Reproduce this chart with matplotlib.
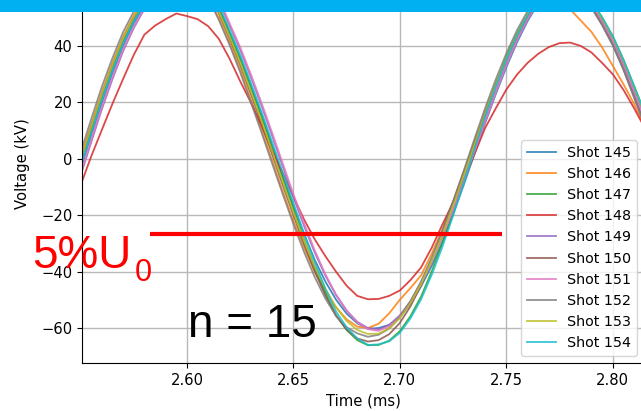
import matplotlib.pyplot as plt
from matplotlib.patches import Rectangle

# Sample times (ms)
time_ms = [2.550, 2.555, 2.560, 2.565, 2.570, 2.575, 2.580, 2.585, 2.590, 2.595,
           2.600, 2.605, 2.610, 2.615, 2.620, 2.625, 2.630, 2.635, 2.640, 2.645,
           2.650, 2.655, 2.660, 2.665, 2.670, 2.675, 2.680, 2.685, 2.690, 2.695,
           2.700, 2.705, 2.710, 2.715, 2.720, 2.725, 2.730, 2.735, 2.740, 2.745,
           2.750, 2.755, 2.760, 2.765, 2.770, 2.775, 2.780, 2.785, 2.790, 2.795,
           2.800, 2.805, 2.810, 2.815, 2.820]

# Voltage (kV) for each shot
shot_145 = [-3.7, 8.2, 19.8, 30.4, 40.1, 48.0, 54.5, 59.2, 62.1, 63.9,
            64.8, 63.8, 60.7, 53.8, 45.0, 36.0, 26.0, 15.7, 4.9, -6.0,
            -16.7, -26.6, -35.8, -43.5, -49.9, -54.9, -58.3, -60.3, -60.0, -58.9,
            -56.1, -51.4, -45.2, -37.9, -29.5, -19.7, -9.3, 1.6, 12.5, 22.8,
            32.4, 41.2, 48.8, 55.1, 59.7, 62.3, 63.0, 59.1, 54.9, 49.2,
            42.5, 34.1, 24.6, 14.9, 4.7]
shot_146 = [0.2, 12.1, 23.6, 34.0, 43.3, 50.8, 56.8, 60.8, 63.1, 64.2,
            64.4, 62.2, 56.5, 49.9, 41.1, 31.5, 21.0, 10.4, -0.6, -11.5,
            -22.0, -31.5, -40.1, -47.0, -52.6, -56.9, -59.5, -60.0, -58.5, -54.8,
            -50.0, -45.8, -41.3, -33.6, -25.0, -15.2, -4.9, 6.0, 16.7, 26.5,
            35.5, 43.6, 50.4, 55.0, 57.5, 56.5, 53.0, 49.0, 45.0, 39.5,
            33.0, 26.5, 19.5, 11.3, 3.0]
shot_147 = [-2.0, 9.9, 21.5, 32.0, 41.5, 49.2, 55.5, 59.9, 62.5, 64.5,
            65.5, 63.5, 60.0, 53.0, 44.2, 35.1, 25.0, 14.6, 3.8, -7.1,
            -17.8, -28.5, -38.4, -47.6, -55.4, -60.7, -64.3, -66.1, -66.0, -64.5,
            -61.1, -55.8, -48.8, -39.9, -29.8, -19.0, -7.6, 4.0, 15.5, 26.2,
            36.1, 44.4, 51.4, 57.0, 61.0, 63.4, 64.0, 60.0, 55.5, 50.0,
            43.5, 35.2, 25.9, 16.3, 6.2]
shot_148 = [-9.5, 0.8, 10.2, 19.5, 28.3, 36.8, 44.0, 47.2, 49.5, 51.5,
            50.6, 49.5, 47.0, 42.5, 35.5, 27.5, 20.0, 11.8, 2.7, -5.0,
            -13.4, -21.5, -28.5, -34.5, -40.0, -45.0, -48.6, -49.8, -49.7, -48.6,
            -46.7, -43.0, -38.5, -31.5, -23.3, -15.5, -7.5, 1.5, 10.8, 17.8,
            24.5, 29.8, 34.0, 37.2, 39.6, 41.0, 41.2, 40.0, 37.7, 34.0,
            30.0, 24.5, 18.0, 11.0, 3.0]
shot_149 = [-6.1, 5.8, 17.5, 28.2, 38.1, 46.3, 53.1, 58.1, 61.4, 63.6,
            64.5, 64.0, 62.3, 56.1, 47.3, 38.7, 29.0, 18.9, 8.2, -2.7,
            -13.6, -23.8, -33.2, -41.4, -48.3, -53.8, -57.8, -60.0, -60.5, -58.9,
            -55.5, -50.5, -44.0, -36.3, -27.6, -17.9, -7.6, 3.0, 13.5, 24.0,
            33.7, 42.3, 49.7, 55.8, 60.2, 62.5, 63.0, 58.8, 54.2, 48.2,
            41.3, 32.6, 23.0, 13.1, 2.9]
shot_150 = [-0.9, 11.0, 22.6, 33.0, 42.4, 50.0, 56.1, 60.3, 62.8, 64.6,
            65.2, 63.0, 58.8, 51.5, 42.7, 33.3, 23.0, 12.5, 1.6, -9.3,
            -19.9, -30.3, -39.8, -48.4, -55.6, -60.5, -63.7, -64.8, -64.3, -62.2,
            -58.2, -52.3, -44.8, -35.8, -25.7, -15.5, -4.9, 5.5, 15.7, 25.8,
            35.2, 43.6, 50.8, 56.6, 60.7, 62.7, 62.8, 58.5, 53.8, 47.6,
            40.5, 31.8, 22.1, 12.1, 1.8]
shot_151 = [-5.3, 6.6, 18.3, 29.0, 38.8, 46.9, 53.6, 58.5, 61.7, 63.7,
            64.5, 64.3, 63.0, 56.9, 48.1, 39.6, 30.0, 19.9, 9.3, -1.6,
            -12.5, -22.8, -32.4, -40.9, -48.1, -53.8, -58.0, -60.4, -61.0, -59.4,
            -56.1, -51.0, -44.4, -36.6, -27.7, -18.2, -8.1, 2.4, 12.9, 23.3,
            33.1, 41.9, 49.4, 55.5, 60.0, 62.7, 63.5, 59.2, 54.6, 48.8,
            42.0, 33.5, 24.0, 14.2, 4.0]
shot_152 = [2.1, 14.0, 25.5, 35.7, 44.9, 52.2, 57.9, 61.7, 63.6, 64.8,
            65.0, 62.3, 57.0, 49.2, 40.4, 30.7, 20.1, 9.4, -1.6, -12.5,
            -23.1, -33.0, -41.9, -49.5, -55.7, -59.7, -61.9, -63.1, -62.4, -60.2,
            -56.2, -50.5, -43.4, -35.0, -25.5, -15.1, -4.3, 6.9, 17.8, 28.0,
            37.3, 45.5, 52.4, 57.8, 61.5, 63.4, 63.4, 58.7, 53.6, 47.4,
            40.2, 31.7, 21.7, 11.7, 1.4]
shot_153 = [-0.7, 11.2, 22.8, 33.2, 42.6, 50.2, 56.3, 60.4, 62.8, 64.4,
            65.0, 63.3, 59.4, 52.2, 43.4, 34.2, 24.0, 13.6, 2.7, -8.2,
            -18.9, -28.9, -38.1, -46.0, -52.6, -57.5, -60.7, -62.1, -62.0, -60.1,
            -56.5, -51.2, -44.3, -36.1, -26.9, -16.7, -6.0, 4.9, 15.7, 26.0,
            35.5, 43.9, 51.1, 56.8, 60.8, 63.1, 63.6, 59.7, 55.3, 49.8,
            43.2, 34.9, 25.6, 15.9, 5.7]
shot_154 = [-2.7, 9.2, 20.9, 31.4, 41.0, 48.8, 55.1, 59.6, 62.3, 64.3,
            65.3, 63.9, 61.2, 54.5, 45.7, 36.9, 27.0, 16.7, 6.0, -4.9,
            -15.7, -26.5, -36.6, -46.0, -54.1, -59.8, -63.7, -66.0, -65.8, -64.7,
            -61.7, -56.6, -49.8, -41.1, -31.2, -20.2, -8.6, 3.2, 15.0, 25.5,
            35.2, 43.6, 50.8, 56.8, 61.2, 63.8, 64.5, 60.5, 56.1, 50.3,
            43.5, 35.2, 25.9, 16.3, 6.2]

shot_names = ['Shot 145', 'Shot 146', 'Shot 147', 'Shot 148', 'Shot 149',
              'Shot 150', 'Shot 151', 'Shot 152', 'Shot 153', 'Shot 154']
shots = [shot_145, shot_146, shot_147, shot_148, shot_149,
         shot_150, shot_151, shot_152, shot_153, shot_154]

# 5 % U0 marker line
level_kv = -26.7
level_start = 2.5826
level_end = 2.7482

x_ticks = [2.60, 2.65, 2.70, 2.75, 2.80]
y_ticks = [-60, -40, -20, 0, 20, 40]

W, H = 641, 411
fig = plt.figure(figsize=(W / 100, H / 100), dpi=100)
ax = fig.add_axes([82 / W, 48 / H, (644 - 82) / W, 398 / H])

for name, values in zip(shot_names, shots):
    ax.plot(time_ms, values, label=name, linewidth=1.3, alpha=0.85)

ax.hlines(level_kv, level_start, level_end, color='red', linewidth=3, zorder=5)

ax.set_xlim(2.5507, 2.8147)
ax.set_ylim(-72.4, 68.7)
ax.set_xticks(x_ticks)
ax.set_xticklabels([f'{t:.2f}' for t in x_ticks])
ax.set_yticks(y_ticks)
ax.tick_params(labelsize=10.6)
ax.grid(True, color='#b8b8b8', linewidth=1.0)
ax.set_xlabel('Time (ms)', fontsize=10.6)
ax.set_ylabel('Voltage (kV)', fontsize=10.6, labelpad=8)
ax.legend(loc='lower right', fontsize=10.3)

fig.text(32 / W, (H - 268) / H, '5%U', color='red', fontsize=33,
         family='Liberation Sans', va='baseline', ha='left')
fig.text(135 / W, (H - 281) / H, '0', color='red', fontsize=22,
         family='Liberation Sans', va='baseline', ha='left')
fig.text(188 / W, (H - 337) / H, 'n = 15', color='black', fontsize=33,
         family='Liberation Sans', va='baseline', ha='left')

# blue banner across the top
fig.add_artist(Rectangle((0, 1 - 12.5 / H), 1, 12.5 / H, transform=fig.transFigure,
                         facecolor='#00b0f0', edgecolor='none', zorder=10))

fig.savefig('out.png', dpi=100)
